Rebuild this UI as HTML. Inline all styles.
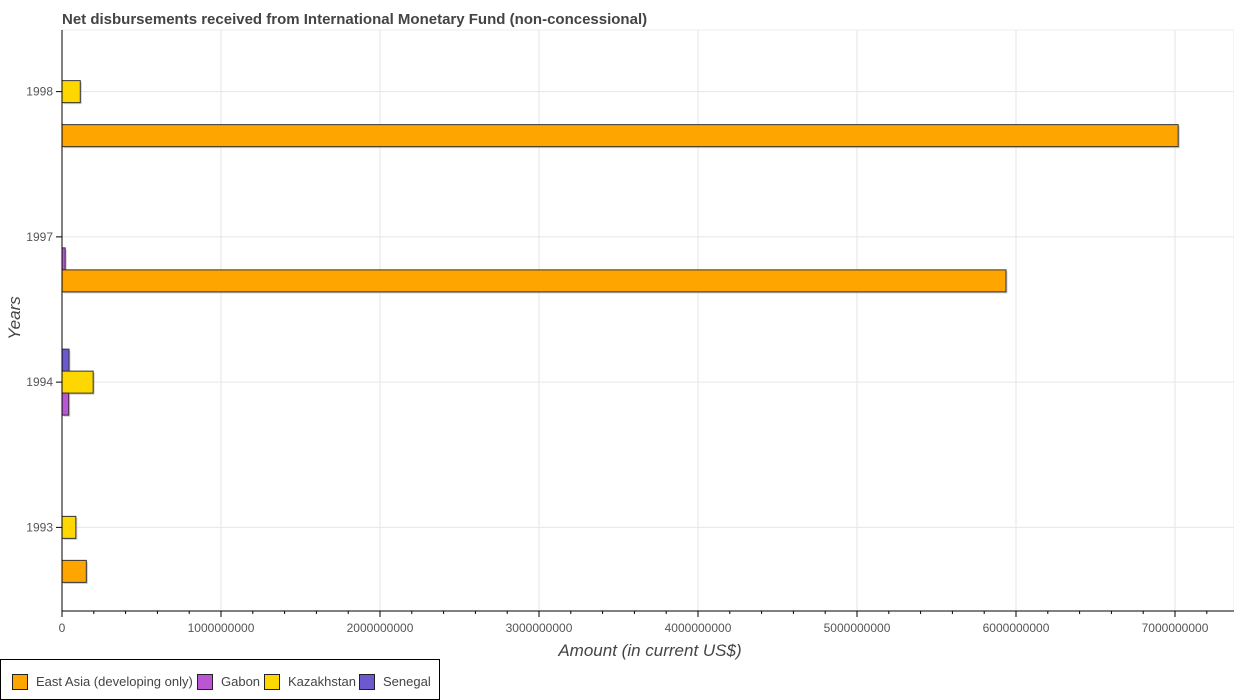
<!DOCTYPE html>
<html><head><meta charset="utf-8"><style>
html,body{margin:0;padding:0;background:#fff;width:1234px;height:700px;overflow:hidden;font-family:"Liberation Sans",sans-serif;}
</style></head><body>
<svg id="chart" width="1234" height="700" xmlns="http://www.w3.org/2000/svg">
<text x="62" y="24" font-size="15" font-weight="bold" fill="#444">Net disbursements received from International Monetary Fund (non-concessional)</text>
<g id="grid"></g><g id="bars"></g><g id="axes"></g>
<text x="650" y="656" font-size="17" font-style="italic" fill="#444" text-anchor="middle">Amount (in current US$)</text>
<text transform="translate(20,318) rotate(-90)" font-size="17" font-style="italic" fill="#444" text-anchor="middle">Years</text>
<g id="legend"></g>
</svg>
<script>
const years = ["1998","1997","1994","1993"];
const seriesNames = ["Senegal","Kazakhstan","Gabon","East Asia (developing only)"];
const senegal = [0,0,44000000,0];
const kazakhstan = [115000000,0,196000000,87000000];
const gabon = [0,20000000,42000000,0];
const eastAsia = [7020000000,5937000000,0,153000000];
const xTicks = [0,1000000000,2000000000,3000000000,4000000000,5000000000,6000000000,7000000000];
const legendNames = ["East Asia (developing only)","Gabon","Kazakhstan","Senegal"];

const colors = {"Senegal":"#6A5ACD","Kazakhstan":"#FFD700","Gabon":"#BA55D3","East Asia (developing only)":"#FFA500"};
const seriesVals = [senegal,kazakhstan,gabon,eastAsia];
const X0=62, XR=1234, PT=30, PB=611, PX=159/1e9;
const xs=v=>X0+v*PX;
const band=(PB-PT)/years.length, barH=22;
const NS="http://www.w3.org/2000/svg";
function mk(t,a,p){const e=document.createElementNS(NS,t);for(const k in a)e.setAttribute(k,a[k]);p.appendChild(e);return e;}
const grid=document.getElementById('grid'),bars=document.getElementById('bars'),axes=document.getElementById('axes'),legend=document.getElementById('legend');
mk('rect',{x:X0,y:PT,width:XR-X0,height:PB-PT,fill:'none',stroke:'#eee'},grid);
xTicks.forEach(t=>{
  const l=mk('line',{x1:xs(t),x2:xs(t),y1:PT,y2:PB,stroke:'#e6e6e6'},grid);
  
  
  mk('line',{x1:xs(t),x2:xs(t),y1:PB,y2:PB+6,stroke:'#000'},axes);
  const tx=mk('text',{x:xs(t),y:PB+21,'font-size':12,fill:'#555','text-anchor':'middle'},axes);
  tx.textContent=String(t);
  
  
});
for(let v=0;v<=7.2e9;v+=2e8){mk('line',{x1:xs(v),x2:xs(v),y1:PB,y2:PB+3,stroke:'#000'},axes);}
years.forEach((y,i)=>{
  const c=PT+band*(i+0.5);
  const gy=c-barH*2;
  const ly=gy+barH*1.5;
  const g=mk('line',{x1:X0,x2:XR,y1:ly,y2:ly,stroke:'#e6e6e6'},grid);
  
  
  mk('line',{x1:X0-6,x2:X0,y1:ly,y2:ly,stroke:'#000'},axes);
  const tx=mk('text',{x:X0-9,y:ly+4,'font-size':12,fill:'#555','text-anchor':'end'},axes);
  tx.textContent=y;
  
  
  seriesNames.forEach((s,j)=>{
    const v=seriesVals[j][i];
    if(!v)return;
    const by=gy+j*barH;
    mk('rect',{x:X0+1.5,y:by+1.5,width:xs(v)-X0,height:barH,fill:'#999',opacity:0.5},bars);
    const r=mk('rect',{x:X0,y:by,width:xs(v)-X0,height:barH,fill:colors[s],stroke:'#333','stroke-width':1},bars);
    
    
  });
});
mk('line',{x1:X0,x2:X0,y1:PT,y2:PB,stroke:'#000'},axes);
mk('line',{x1:X0,x2:XR,y1:PB,y2:PB,stroke:'#000'},axes);
const lb=mk('rect',{x:0.5,y:659.5,width:439,height:40,fill:'#fff',stroke:'#000'},legend);


const lxs=[12,197,264,359];
legendNames.forEach((n,i)=>{
  const lx=lxs[i];
  const r=mk('rect',{x:lx+0.5,y:674.5,width:15,height:15,fill:colors[n],stroke:'#222'},legend);
  
  
  const t=mk('text',{x:lx+24,y:686,'font-size':13,fill:'#444'},legend);
  t.textContent=n;
  
  
});
</script>
</body></html>
